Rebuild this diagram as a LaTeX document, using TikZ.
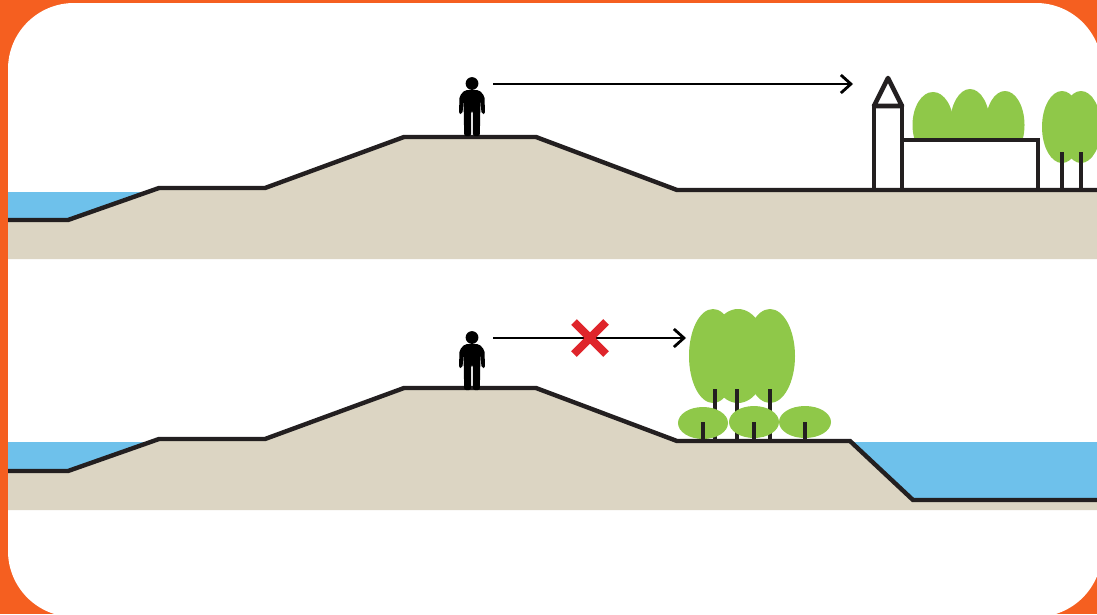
\documentclass[tikz,border=0pt]{standalone}
\definecolor{dkOrange}{HTML}{F55F20}
\definecolor{dkWater}{HTML}{6EC1EB}
\definecolor{dkSoil}{HTML}{DCD5C3}
\definecolor{dkTree}{HTML}{8FC849}
\definecolor{dkLine}{HTML}{231F20}
\definecolor{dkCross}{HTML}{DF252B}
\usetikzlibrary{arrows.meta}
\tikzset{
  dikeline/.style={draw=dkLine, line width=4.4pt, line join=miter},
  trunk/.style={draw=dkLine, line width=4.2pt},
  wall/.style={draw=dkLine, line width=4.6pt, fill=white},
  sightline/.style={draw=black, line width=2.6pt, -{Straight Barb[length=10pt,width=18pt,line width=2.8pt]}},
  person/.pic={
    \fill[black] (0,-53.5) circle (6.4);
    \fill[black, rounded corners=2pt] (-7,-47) -- (7,-47) -- (12.5,-41) -- (13,-23) -- (9.5,-23) -- (8.5,-38)
      -- (7.8,-1) -- (1,-1) -- (0.8,-26) -- (-0.8,-26) -- (-1,-1) -- (-7.8,-1) -- (-8.5,-38)
      -- (-9.5,-23) -- (-13,-23) -- (-12.5,-41) -- cycle;
  }
}

\begin{document}
\begin{tikzpicture}[x=1pt,y=-1pt]
  \useasboundingbox (0,0) rectangle (1097,614);
  \fill[dkOrange] (0,0) rectangle (1097,614);
  \fill[white, rounded corners=66pt] (8,3) rectangle (1102,617);

  % upper section
  \fill[dkWater] (8,192) -- (150,192) -- (68,220) -- (8,220) -- cycle;
  \fill[dkSoil] (8,220) -- (68,220) -- (159,188) -- (265,188) -- (404,137) -- (536,137) -- (677,190)
    -- (1097,190) -- (1097,259) -- (8,259) -- cycle;

  \fill[dkTree] (933,125) ellipse (20.5 and 33);
  \fill[dkTree] (970,125) ellipse (20 and 36);
  \fill[dkTree] (1005,125) ellipse (19.5 and 34);
  \fill[dkTree] (1062,127) ellipse (20 and 36);
  \fill[dkTree] (1081,127) ellipse (20 and 36);
  \draw[trunk] (1062,152) -- (1062,190);
  \draw[trunk] (1081,152) -- (1081,190);

  \draw[wall] (902,140) -- (1038,140) -- (1038,190) -- (902,190) -- cycle;
  \draw[wall] (874,190) -- (874,106) -- (902,106) -- (902,190) -- cycle;
  \draw[wall, line join=round] (874,106) -- (888,78) -- (902,106) -- cycle;

  \draw[dikeline] (8,220) -- (68,220) -- (159,188) -- (265,188) -- (404,137) -- (536,137) -- (677,190) -- (1097,190);
  \pic at (472,137) {person};
  \coordinate (eyeA) at (493,84);
  \coordinate (viewA) at (853,84);
  \draw[sightline] (eyeA) -- (viewA);

  % lower section
  \fill[dkWater] (8,442) -- (150,442) -- (68,471) -- (8,471) -- cycle;
  \fill[dkWater] (850,442) -- (1097,442) -- (1097,500) -- (913,500) -- cycle;
  \fill[dkSoil] (8,471) -- (68,471) -- (159,439) -- (265,439) -- (404,388) -- (536,388) -- (677,441)
    -- (850,441) -- (913,500) -- (1097,500) -- (1097,510) -- (8,510) -- cycle;

  \fill[dkTree] (713,356) ellipse (24 and 47);
  \fill[dkTree] (738,356) ellipse (30 and 47);
  \fill[dkTree] (770,356) ellipse (25 and 47);
  \foreach \tx in {715,737,770}
    \draw[trunk] (\tx,389) -- (\tx,441);
  \fill[dkTree] (703,423) ellipse (25 and 16);
  \fill[dkTree] (754,422) ellipse (25 and 16);
  \fill[dkTree] (805,422) ellipse (26 and 16);
  \foreach \tx in {703,754,805}
    \draw[trunk] (\tx,422) -- (\tx,441);

  \draw[dikeline] (8,471) -- (68,471) -- (159,439) -- (265,439) -- (404,388) -- (536,388) -- (677,441)
    -- (850,441) -- (913,500) -- (1097,500);
  \pic at (472,391) {person};
  \coordinate (eyeB) at (493,338);
  \coordinate (viewB) at (686,338);
  \draw[sightline] (eyeB) -- (viewB);
  \draw[dkCross, line width=8pt] (574,322) -- (606,354) (606,322) -- (574,354);
\end{tikzpicture}
\end{document}
